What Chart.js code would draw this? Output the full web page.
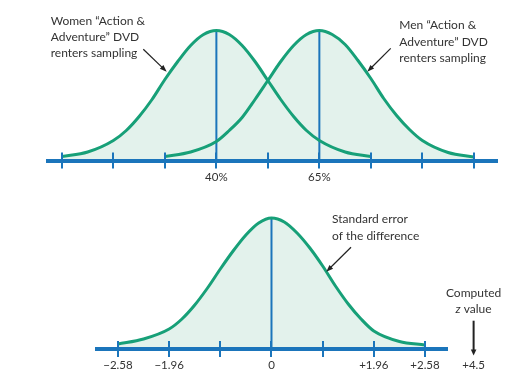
<!DOCTYPE html>
<html><head><meta charset="utf-8">
<script src="https://cdn.jsdelivr.net/npm/chart.js@4.4.0/dist/chart.umd.min.js"></script>
<style>
html,body{margin:0;padding:0;background:#fff;width:519px;height:383px;overflow:hidden}
.box{position:absolute;left:0;width:519px}
#top{top:0;height:190px}
#bot{top:190px;height:193px}
</style></head><body>
<div class="box" id="top"><canvas id="c1"></canvas></div>
<div class="box" id="bot"><canvas id="c2"></canvas></div>
<script>
// ---- data ----
const topTickLabels = ['', '', '', '40%', '', '65%', '', '', ''];
const womenX = [0, 0.5, 1, 1.25, 1.5, 1.75, 2, 2.25, 2.5, 2.75, 3, 3.25, 3.5, 3.75, 4, 4.25, 4.5, 4.75, 5, 5.5, 6];
const womenY = [4, 8.5, 20, 30, 44, 61, 81, 99, 115, 126, 130, 126, 115, 99, 80, 61, 44, 30, 20, 8.5, 4];
const menX = [2, 2.5, 3, 3.25, 3.5, 3.75, 4, 4.25, 4.5, 4.75, 5, 5.25, 5.5, 5.75, 6, 6.25, 6.5, 6.75, 7, 7.5, 8];
const menY = [4, 8.5, 19, 30, 43, 61, 80, 99, 115, 126, 130, 126, 116, 100, 82, 62, 45, 31, 20, 8, 3.5];

const bottomTickLabels = ['\u22122.58', '\u22121.96', '', '0', '', '+1.96', '+2.58'];
const diffX = [0, 0.5, 1, 1.25, 1.5, 1.75, 2, 2.25, 2.5, 2.75, 3, 3.25, 3.5, 3.75, 4, 4.25, 4.5, 4.75, 5, 5.5, 6];
const diffY = [5, 10, 20, 30, 44, 61, 80, 98, 114, 126, 131, 127, 116, 101, 83, 63, 45, 30, 18, 7.5, 4];
const computedZ = '+4.5';

// ---- styles ----
const BLUE = '#1b75bb', GREEN = '#17a078', FILL = '#e3f2ec', TEXT = '#333333', FONT = 'Lato';

const pts = (xs, ys) => xs.map((x, i) => ({x, y: ys[i]}));
const peakLine = (xs, ys) => { const i = ys.indexOf(Math.max(...ys)); return [{x: xs[i], y: 0}, {x: xs[i], y: ys[i]}]; };

function curve(xs, ys) {
  return {data: pts(xs, ys), borderColor: GREEN, borderWidth: 3, backgroundColor: FILL, fill: 'origin',
    pointRadius: 0, cubicInterpolationMode: 'monotone', order: 1};
}
function meanLine(xs, ys) {
  return {data: peakLine(xs, ys), borderColor: BLUE, borderWidth: 2, fill: false, pointRadius: 0, tension: 0, order: 2};
}

const notesPlugin = {
  id: 'notes',
  afterDatasetsDraw(chart, args, opts) {
    const ctx = chart.ctx, xs = chart.scales.x, ys = chart.scales.y;
    const axisY = chart.chartArea.bottom;
    ctx.save();
    ctx.strokeStyle = BLUE; ctx.lineWidth = 2;
    opts.ticks.forEach((_, i) => {
      const x = Math.round(xs.getPixelForValue(i));
      ctx.beginPath(); ctx.moveTo(x, axisY - 8); ctx.lineTo(x, axisY + 8); ctx.stroke();
    });
    ctx.fillStyle = TEXT; ctx.textBaseline = 'middle';
    (opts.texts || []).forEach(t => {
      const x0 = xs.getPixelForValue(t.x), y0 = ys.getPixelForValue(t.y);
      t.lines.forEach((ln, k) => {
        const segs = Array.isArray(ln) ? ln : [[ln, '']];
        let w = 0;
        segs.forEach(s => { ctx.font = `${s[1]} ${t.size}px ${FONT}`; w += ctx.measureText(s[0]).width; });
        let x = t.align === 'center' ? x0 - w / 2 : x0;
        ctx.textAlign = 'left';
        segs.forEach(s => { ctx.font = `${s[1]} ${t.size}px ${FONT}`; ctx.fillText(s[0], x, y0 + k * t.gap); x += ctx.measureText(s[0]).width; });
      });
    });
    (opts.arrows || []).forEach(a => {
      const x1 = xs.getPixelForValue(a.x1), y1 = ys.getPixelForValue(a.y1);
      const x2 = xs.getPixelForValue(a.x2), y2 = ys.getPixelForValue(a.y2);
      const ang = Math.atan2(y2 - y1, x2 - x1), hl = a.head || 7, hw = (a.hw || 2.6);
      ctx.strokeStyle = '#222'; ctx.fillStyle = '#222'; ctx.lineWidth = a.w || 1.2;
      ctx.beginPath(); ctx.moveTo(x1, y1);
      ctx.lineTo(x2 - Math.cos(ang) * hl * 0.8, y2 - Math.sin(ang) * hl * 0.8); ctx.stroke();
      ctx.beginPath(); ctx.moveTo(x2, y2);
      ctx.lineTo(x2 - Math.cos(ang) * hl - Math.sin(ang) * hw, y2 - Math.sin(ang) * hl + Math.cos(ang) * hw);
      ctx.lineTo(x2 - Math.cos(ang) * hl + Math.sin(ang) * hw, y2 - Math.sin(ang) * hl - Math.cos(ang) * hw);
      ctx.closePath(); ctx.fill();
    });
    ctx.restore();
  }
};

function xAxis(min, max, labels, h, pad) {
  return {
    type: 'linear', min, max,
    afterBuildTicks: s => { s.ticks = labels.map((_, i) => ({value: i})); },
    afterFit: s => { s.height = h; },
    grid: {display: false, drawTicks: false},
    border: {display: true, color: BLUE, width: 4, z: 1},
    ticks: {autoSkip: false, maxRotation: 0, minRotation: 0, padding: pad, color: TEXT,
      font: {family: FONT, size: 11.5}, callback: v => labels[v] ?? ''}
  };
}

const common = {responsive: true, maintainAspectRatio: false, animation: false, devicePixelRatio: 1};

new Chart(document.getElementById('c1'), {
  type: 'line',
  data: {datasets: [curve(womenX, womenY), curve(menX, menY), meanLine(womenX, womenY), meanLine(menX, menY)]},
  plugins: [notesPlugin],
  options: {...common,
    layout: {padding: {left: 48, right: 22, top: 20, bottom: 0}},
    scales: {x: xAxis(-0.27, 8.45, topTickLabels, 29.5, 10), y: {display: false, min: 0, max: 140.5}},
    plugins: {legend: {display: false}, tooltip: {enabled: false}, filler: {drawTime: 'beforeDatasetsDraw'},
      notes: {ticks: topTickLabels,
        texts: [
          {x: -0.218, y: 139.8, gap: 16.3, size: 12, lines: ['Women \u201cAction &', 'Adventure\u201d DVD', 'renters sampling']},
          {x: 6.553, y: 135.5, gap: 16.7, size: 12, lines: ['Men \u201cAction &', 'Adventure\u201d DVD', 'renters sampling']}
        ],
        arrows: [
          {x1: 1.581, y1: 111.2, x2: 2.035, y2: 88.8},
          {x1: 6.386, y1: 112.2, x2: 5.931, y2: 88.8}
        ]}
    }}
});

new Chart(document.getElementById('c2'), {
  type: 'line',
  data: {datasets: [curve(diffX, diffY), meanLine(diffX, diffY)]},
  plugins: [notesPlugin],
  options: {...common,
    layout: {padding: {left: 97, right: 72, top: 18, bottom: 0}},
    scales: {x: xAxis(-0.41, 6.43, bottomTickLabels, 34, 9.4), y: {display: false, min: 0, max: 141}},
    plugins: {legend: {display: false}, tooltip: {enabled: false}, filler: {drawTime: 'beforeDatasetsDraw'},
      notes: {ticks: bottomTickLabels,
        texts: [
          {x: 4.183, y: 129.7, gap: 16.4, size: 12, lines: ['Standard error', 'of the difference']},
          {x: 6.95, y: 56.3, gap: 16.3, size: 12, align: 'center', lines: ['Computed', [['z', 'italic'], [' value', '']]]},
          {x: 6.95, y: -16.2, gap: 0, size: 11.5, align: 'center', lines: [computedZ]}
        ],
        arrows: [
          {x1: 4.554, y1: 101.7, x2: 4.071, y2: 77.3},
          {x1: 6.95, y1: 28.3, x2: 6.95, y2: -6.5, w: 2, head: 6, hw: 2.8}
        ]}
    }}
});
</script>
</body></html>
